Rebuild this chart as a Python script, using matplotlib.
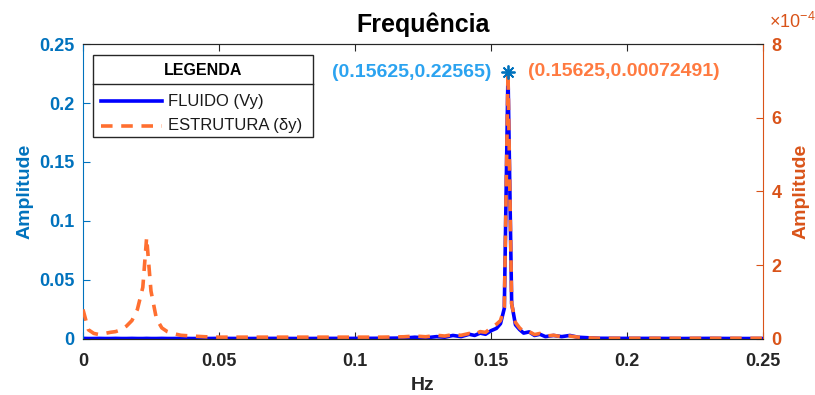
import numpy as np
import matplotlib
matplotlib.use('Agg')
import matplotlib.pyplot as plt
from matplotlib.lines import Line2D
from matplotlib.patches import Rectangle
from matplotlib.ticker import FuncFormatter

plt.rcParams['font.family'] = ['Liberation Sans', 'DejaVu Sans']
plt.rcParams['mathtext.default'] = 'regular'

# frequency bins (Hz)
freq = [0, 0.002, 0.004, 0.006, 0.008, 0.010, 0.012, 0.014, 0.016, 0.018,
        0.020, 0.022, 0.0234, 0.025, 0.027, 0.029, 0.031, 0.033, 0.036, 0.040,
        0.045, 0.050, 0.060, 0.070, 0.080, 0.090, 0.100, 0.110, 0.118, 0.122,
        0.126, 0.130, 0.133, 0.136, 0.139, 0.142, 0.144, 0.146, 0.148, 0.150,
        0.152, 0.1535, 0.1549, 0.15625, 0.1576, 0.159, 0.1605, 0.162, 0.164, 0.166,
        0.168, 0.170, 0.173, 0.176, 0.179, 0.182, 0.186, 0.190, 0.200, 0.210,
        0.220, 0.230, 0.240, 0.250]

# fluid Vy amplitude (left axis)
fluido = [0.0005, 0.0004, 0.0004, 0.0005, 0.0004, 0.0004, 0.0005, 0.0004, 0.0004, 0.0005,
          0.0004, 0.0004, 0.0005, 0.0004, 0.0004, 0.0005, 0.0004, 0.0004, 0.0005, 0.0004,
          0.0004, 0.0005, 0.0004, 0.0005, 0.0004, 0.0005, 0.0005, 0.0006, 0.0008, 0.0015,
          0.0010, 0.0020, 0.0015, 0.0030, 0.0020, 0.0040, 0.0030, 0.0050, 0.0040, 0.0070,
          0.0090, 0.0130, 0.0260, 0.22565, 0.0300, 0.0120, 0.0080, 0.0050, 0.0060, 0.0030,
          0.0040, 0.0020, 0.0030, 0.0020, 0.0030, 0.0015, 0.0010, 0.0006, 0.0005, 0.0005,
          0.0004, 0.0005, 0.0004, 0.0004]

# structure dy amplitude (right axis, x1e-4)
estrutura = [0.80, 0.25, 0.15, 0.12, 0.15, 0.18, 0.20, 0.25, 0.35, 0.50,
             0.80, 1.40, 2.75, 1.30, 0.55, 0.30, 0.20, 0.15, 0.10, 0.08,
             0.06, 0.05, 0.05, 0.05, 0.05, 0.05, 0.05, 0.05, 0.06, 0.08,
             0.06, 0.10, 0.08, 0.12, 0.10, 0.15, 0.12, 0.20, 0.18, 0.30,
             0.40, 0.50, 0.85, 7.2491, 0.95, 0.45, 0.30, 0.20, 0.20, 0.12,
             0.15, 0.08, 0.10, 0.06, 0.08, 0.05, 0.03, 0.02, 0.02, 0.02,
             0.02, 0.02, 0.02, 0.02]

f_pico = 0.15625
fluido_pico = 0.22565
estrutura_pico = 0.00072491

c_left = '#0072BD'
c_right = '#D95319'
c_line2 = '#FF6F30'
c_dark = '#262626'

freq = np.array(freq)
fluido = np.array(fluido)
estrutura = np.array(estrutura) * 1e-4

fig = plt.figure(figsize=(8.15, 3.95), dpi=100)
ax = fig.add_axes([0.1018, 0.1418, 0.8344, 0.7468])
ax2 = ax.twinx()

lw = 2.6
dash = (3.2, 2.4)
ax.plot(freq, fluido, color='#0000FF', lw=lw)
ax2.plot(freq, estrutura, color=c_line2, lw=lw, dashes=dash)
ax2.plot([f_pico], [estrutura_pico], marker=(8, 2, 0), color=c_left, ms=10, mew=1.3, ls='none')

ax.set_xlim(0, 0.25)
ax.set_ylim(0, 0.25)
ax2.set_ylim(0, 8e-4)
ax.set_xticks([0, 0.05, 0.1, 0.15, 0.2, 0.25])
ax.set_yticks([0, 0.05, 0.1, 0.15, 0.2, 0.25])
ax2.set_yticks([0, 2e-4, 4e-4, 6e-4, 8e-4])
fmt = FuncFormatter(lambda v, p: '%g' % round(v, 6))
ax.xaxis.set_major_formatter(fmt)
ax.yaxis.set_major_formatter(fmt)
ax2.yaxis.set_major_formatter(FuncFormatter(lambda v, p: '%g' % round(v * 1e4, 6)))

for a in (ax, ax2):
    a.tick_params(direction='in', length=5, width=0.8, labelsize=13)
    for lab in a.get_xticklabels() + a.get_yticklabels():
        lab.set_fontweight('bold')
ax.tick_params(axis='x', top=True, colors=c_dark, pad=10)
ax2.tick_params(axis='x', top=True)
ax.tick_params(axis='y', colors=c_left, pad=6)
ax2.tick_params(axis='y', colors=c_right, pad=6)
ax.spines['left'].set_color(c_left)
ax2.spines['left'].set_visible(False)
ax2.spines['right'].set_color(c_right)
ax.spines['right'].set_visible(False)
for a in (ax, ax2):
    a.spines['top'].set_color(c_dark)
    a.spines['bottom'].set_color(c_dark)

ax.set_title('Frequência', fontsize=18, fontweight='bold', color='black', pad=9)
ax.set_xlabel('Hz', fontsize=14, fontweight='bold', color=c_dark, labelpad=5)
ax.set_ylabel('Amplitude', fontsize=14, fontweight='bold', color=c_left, labelpad=4)
ax2.set_ylabel('Amplitude', fontsize=14, fontweight='bold', color=c_right, labelpad=8)

fig.text(0.943, 0.93, r'$\times$10$^{-4}$', color=c_right, fontsize=13, ha='left', va='baseline')

# data tips
ax.text(f_pico - 0.0062, fluido_pico, '(%g,%g)' % (f_pico, fluido_pico),
        color='#2BA3F0', fontsize=14, fontweight='bold', ha='right', va='center')
ax2.text(f_pico + 0.0075, estrutura_pico, '(%g,%g)' % (f_pico, estrutura_pico),
         color='#FF7A40', fontsize=14, fontweight='bold', ha='left', va='center')


# legend box with a titled header, drawn in axes fraction
def px(x, y):
    return (x - 83) / 680.0, (339 - y) / 295.0


tA = ax2.transAxes
bx0, by0 = px(93, 137)
bx1, by1 = px(313, 55)
ax2.add_patch(Rectangle((bx0, by0), bx1 - bx0, by1 - by0, transform=tA,
                        facecolor='white', edgecolor=c_dark, lw=1.0, zorder=20))
sx0, sy = px(93, 84)
ax2.add_line(Line2D([bx0, bx1], [sy, sy], transform=tA, color=c_dark, lw=1.0, zorder=21))
tx, ty = px(203, 70)
ax2.text(tx, ty, 'LEGENDA', transform=tA, fontsize=11.5, fontweight='bold',
         color='black', ha='center', va='center', zorder=22)
entradas = [('FLUIDO (Vy)', '#0000FF', None, 101), ('ESTRUTURA (δy)', c_line2, dash, 126)]
for nome, cor, ds, ypx in entradas:
    hx0, hy = px(101, ypx)
    hx1, _ = px(162, ypx)
    ln = Line2D([hx0, hx1], [hy, hy], transform=tA, color=cor, lw=lw, zorder=22)
    if ds:
        ln.set_dashes(ds)
    ax2.add_line(ln)
    lx, _ = px(168, ypx)
    ax2.text(lx, hy, nome, transform=tA, fontsize=12, color='#1a1a1a',
             ha='left', va='center', zorder=22)

fig.savefig('out.png', dpi=100)
